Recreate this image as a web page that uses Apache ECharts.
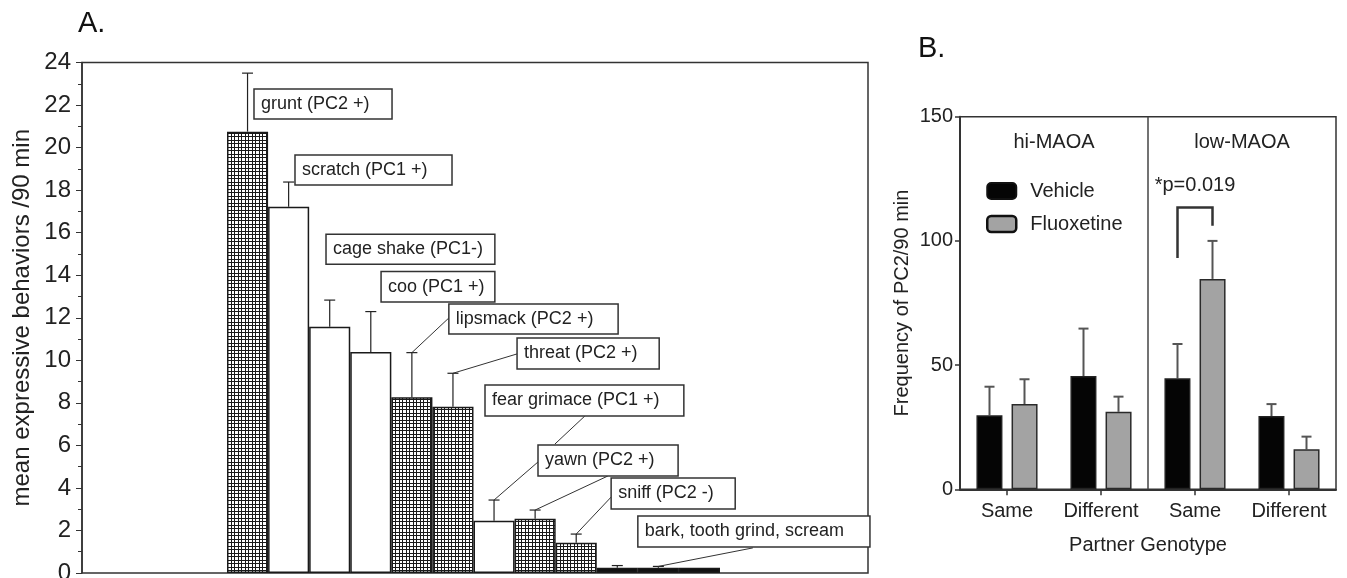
<!DOCTYPE html>
<html><head><meta charset="utf-8">
<script src="https://cdn.jsdelivr.net/npm/echarts@6/dist/echarts.min.js"></script>
<style>html,body{margin:0;padding:0;background:#fff}#c{width:1347px;height:578px}</style>
</head><body><div id="c"></div>
<script>
// ---------- Panel A data ----------
const behaviors = ['grunt','scratch','cage shake','coo','lipsmack','threat','fear grimace','yawn','sniff','bark','tooth grind','scream'];
const behaviorMeans = [20.75, 17.22, 11.58, 10.39, 8.26, 7.82, 2.46, 2.55, 1.42, 0.25, 0.25, 0.25];
const behaviorSem   = [2.75, 1.16, 1.25, 1.90, 2.10, 1.57, 0.97, 0.41, 0.41, 0.10, 0.06, 0];
const behaviorLabels = ['grunt (PC2 +)','scratch (PC1 +)','cage shake (PC1-)','coo (PC1 +)','lipsmack (PC2 +)','threat (PC2 +)','fear grimace (PC1 +)','yawn (PC2 +)','sniff (PC2 -)','bark, tooth grind, scream'];
const yTicksA = [0, 24, 2];

// ---------- Panel B data ----------
const genotypeCats = ['Same','Different','Same','Different'];
const groupNames = ['hi-MAOA','low-MAOA'];
const vehicleMeans = [29.8, 45.6, 44.7, 29.5];
const vehicleSem   = [11.5, 19.1, 13.8, 4.8];
const fluoxMeans   = [34.3, 31.2, 84.7, 16.1];
const fluoxSem     = [10.0, 6.1, 15.3, 5.1];
const sigText = '*p=0.019';
const sigLevels = [93.1, 113.4, 106.1]; // left leg, top, right leg
const yTicksB = [0, 150, 50];

// ---------- styles / layout (kept apart from data) ----------
const fillKinds = ['hatch','white','white','white','hatch','hatch','white','hatch','hatch','black','black','black'];
// label boxes in bar units (u from left edge of first bar) and value units: [u0, vTop, u1, vBottom]
const boxLayout = [
  [0.657,22.75,4.017,21.34],[1.655,19.65,5.477,18.24],[2.41,15.92,6.52,14.51],[3.75,14.17,6.52,12.74],
  [5.40,12.65,9.52,11.24],[7.06,11.05,10.52,9.59],[6.28,8.84,11.12,7.38],[7.57,6.02,10.98,4.56],
  [9.35,4.47,12.37,3.01],[10.0,2.68,15.65,1.22]
];
const leaderLayout = [
  {bar:4, to:[5.40,11.99]}, {bar:5, to:[7.06,10.30]}, {bar:6, to:[7.57,5.22]},
  {bar:7, to:[9.27,4.56]}, {bar:8, to:[9.35,3.57]}, {bar:10, to:[12.80,1.18]},
  {from:[8.71,7.38], to:[7.98,6.06]}
];

const FONT = '"Liberation Sans", Arial, Helvetica, sans-serif';
const INK = '#222';

function makeHatch(){
  const n = 7;
  const c = document.createElement('canvas'); c.width = n; c.height = n;
  const g = c.getContext('2d');
  g.fillStyle = '#fff'; g.fillRect(0,0,n,n);
  g.fillStyle = '#1a1a1a';
  [0, 3].forEach(k => { g.fillRect(0,k,n,1); g.fillRect(k,0,1,n); });
  return c;
}
const hatch = makeHatch();
function fillFor(kind){
  if (kind === 'hatch') return {image: hatch, repeat: 'repeat'};
  if (kind === 'black') return '#111';
  return '#fff';
}

const chart = echarts.init(document.getElementById('c'), null, {renderer:'canvas'});

function errRender(offset, capHalf, color, lw){
  return function(params, api){
    const i = api.value(0), lo = api.value(1), hi = api.value(2);
    if (hi - lo <= 0) return null;
    const p0 = api.coord([i, lo]), p1 = api.coord([i, hi]);
    const x = p0[0] + offset;
    return {type:'group', children:[
      {type:'line', shape:{x1:x, y1:p0[1], x2:x, y2:p1[1]}, style:{stroke:color, lineWidth:lw}},
      {type:'line', shape:{x1:x-capHalf, y1:p1[1], x2:x+capHalf, y2:p1[1]}, style:{stroke:color, lineWidth:lw}}
    ]};
  };
}

const axisGray = '#333';
const option = {
  animation: false,
  backgroundColor: '#fff',
  textStyle: {fontFamily: FONT},
  grid: [
    {left:82, top:62.5, right:479, bottom:5, show:true, borderColor:axisGray, borderWidth:1.5, outerBoundsMode:'none', containLabel:false},
    {left:227, top:62.5, width:493, bottom:5, outerBoundsMode:'none', containLabel:false},
    {left:960, top:116.7, right:11, bottom:88.7, show:true, borderColor:axisGray, borderWidth:1.5, outerBoundsMode:'none', containLabel:false}
  ],
  xAxis: [
    {gridIndex:0, type:'value', min:0, max:1, show:false},
    {gridIndex:1, type:'category', data:behaviors, show:false, boundaryGap:true},
    {gridIndex:2, type:'category', data:genotypeCats, boundaryGap:true,
     axisLine:{lineStyle:{color:axisGray, width:2}},
     axisTick:{show:true, alignWithLabel:true, length:6, lineStyle:{color:axisGray, width:1.5}},
     axisLabel:{color:INK, fontSize:20, margin:12, interval:0, fontFamily:FONT},
     name:'Partner Genotype', nameLocation:'middle', nameGap:46, nameMoveOverlap:false,
     nameTextStyle:{color:INK, fontSize:20, fontFamily:FONT}}
  ],
  yAxis: [
    {gridIndex:0, type:'value', min:yTicksA[0], max:yTicksA[1], interval:yTicksA[2],
     axisLine:{show:true, lineStyle:{color:axisGray, width:1.5}},
     axisTick:{show:true, length:6, lineStyle:{color:axisGray, width:1}},
     minorTick:{show:true, splitNumber:2, length:4, lineStyle:{color:axisGray, width:1}},
     axisLabel:{color:INK, fontSize:24, margin:11, fontFamily:FONT},
     splitLine:{show:false},
     name:'mean expressive behaviors /90 min', nameLocation:'middle', nameGap:48, nameMoveOverlap:false,
     nameTextStyle:{color:INK, fontSize:24, fontFamily:FONT}},
    {gridIndex:1, type:'value', min:yTicksA[0], max:yTicksA[1], show:false, splitLine:{show:false}},
    {gridIndex:2, type:'value', min:yTicksB[0], max:yTicksB[1], interval:yTicksB[2],
     axisLine:{show:true, lineStyle:{color:axisGray, width:2}},
     axisTick:{show:true, length:5, lineStyle:{color:axisGray, width:1.5}},
     axisLabel:{color:INK, fontSize:20, margin:7, fontFamily:FONT},
     splitLine:{show:false},
     name:'Frequency of PC2/90 min', nameLocation:'middle', nameGap:48, nameMoveOverlap:false,
     nameTextStyle:{color:INK, fontSize:20, fontFamily:FONT}}
  ],
  legend: {
    data:[
      {name:'Vehicle', itemStyle:{color:'#050505', borderColor:'#111', borderWidth:2}},
      {name:'Fluoxetine', itemStyle:{color:'#a3a3a3', borderColor:'#111', borderWidth:2.5}}
    ],
    orient:'vertical', left:981, top:176,
    itemWidth:29, itemHeight:16, itemGap:13, icon:'roundRect',
    textStyle:{color:INK, fontSize:20, fontFamily:FONT, padding:[0,0,0,9]},
    selectedMode:false
  },
  series: [
    {type:'bar', xAxisIndex:1, yAxisIndex:1, barWidth:'100%', barCategoryGap:'0%', silent:true,
     itemStyle:{borderColor:'#1a1a1a', borderWidth:1.5},
     data: behaviorMeans.map((v,i)=>({value:v, itemStyle:{color:fillFor(fillKinds[i])}}))},
    {type:'custom', xAxisIndex:1, yAxisIndex:1, silent:true, z:5,
     renderItem: errRender(0, 5.5, '#222', 1.2),
     data: behaviorMeans.map((v,i)=>[i, v, v + behaviorSem[i]])},
    {type:'bar', name:'Vehicle', xAxisIndex:2, yAxisIndex:2, barWidth:26, barGap:'35%', silent:true,
     itemStyle:{color:'#050505', borderColor:'#222', borderWidth:1.5},
     data: vehicleMeans},
    {type:'bar', name:'Fluoxetine', xAxisIndex:2, yAxisIndex:2, barWidth:26, barGap:'35%', silent:true,
     itemStyle:{color:'#a3a3a3', borderColor:'#2a2a2a', borderWidth:1.5},
     data: fluoxMeans},
    {type:'custom', xAxisIndex:2, yAxisIndex:2, silent:true, z:1,
     renderItem: errRender(-17.5, 5, '#555', 2),
     data: vehicleMeans.map((v,i)=>[i, v, v + vehicleSem[i]])},
    {type:'custom', xAxisIndex:2, yAxisIndex:2, silent:true, z:1,
     renderItem: errRender(17.5, 5, '#555', 2),
     data: fluoxMeans.map((v,i)=>[i, v, v + fluoxSem[i]])}
  ]
};
chart.setOption(option);

// ---------- annotations via the chart's own scales ----------
function pxA(u, v){
  const c0 = chart.convertToPixel({xAxisIndex:1}, 0);
  const c1 = chart.convertToPixel({xAxisIndex:1}, 1);
  const band = c1 - c0;
  return [c0 - band/2 + u*band, chart.convertToPixel({yAxisIndex:1}, v)];
}
const g = [];
g.push({type:'text', left:78, top:9, style:{text:'A.', font:'29px '+FONT, fill:'#111'}});
g.push({type:'text', left:918, top:34, style:{text:'B.', font:'29px '+FONT, fill:'#111'}});

leaderLayout.forEach(l => {
  const a = l.bar !== undefined ? pxA(l.bar + 0.5, behaviorMeans[l.bar] + behaviorSem[l.bar]) : pxA(l.from[0], l.from[1]);
  const b = pxA(l.to[0], l.to[1]);
  g.push({type:'line', z:50, shape:{x1:a[0], y1:a[1], x2:b[0], y2:b[1]}, style:{stroke:'#333', lineWidth:1}});
});
behaviorLabels.forEach((t, i) => {
  const bx = boxLayout[i];
  const p0 = pxA(bx[0], bx[1]), p1 = pxA(bx[2], bx[3]);
  g.push({type:'rect', z:60, shape:{x:p0[0], y:p0[1], width:p1[0]-p0[0], height:p1[1]-p0[1]},
          style:{fill:'#fff', stroke:'#333', lineWidth:1.5}});
  g.push({type:'text', z:61, x:p0[0]+7, y:(p0[1]+p1[1])/2,
          style:{text:t, font:'18px '+FONT, fill:'#222', verticalAlign:'middle', align:'left'}});
});

// Panel B
const cx = i => chart.convertToPixel({xAxisIndex:2}, i);
const cy = v => chart.convertToPixel({yAxisIndex:2}, v);
const divX = (cx(1) + cx(2)) / 2;
g.push({type:'line', z:50, shape:{x1:divX, y1:cy(yTicksB[1]), x2:divX, y2:cy(0)}, style:{stroke:'#444', lineWidth:1.5}});
[[0,1],[2,3]].forEach((pair, k) => {
  g.push({type:'text', z:50, x:(cx(pair[0])+cx(pair[1]))/2, y:cy(139.5),
          style:{text:groupNames[k], font:'20px '+FONT, fill:INK, align:'center', verticalAlign:'middle'}});
});
const xl = cx(2) - 17.5, xr = cx(2) + 17.5;
g.push({type:'polyline', z:50, shape:{points:[[xl, cy(sigLevels[0])],[xl, cy(sigLevels[1])],[xr, cy(sigLevels[1])],[xr, cy(sigLevels[2])]]},
        style:{stroke:'#333', lineWidth:2.5, fill:null}});
g.push({type:'text', z:50, x:cx(2), y:cy(122.5),
        style:{text:sigText, font:'20px '+FONT, fill:INK, align:'center', verticalAlign:'middle'}});

chart.setOption({graphic: g});
</script>
</body></html>
